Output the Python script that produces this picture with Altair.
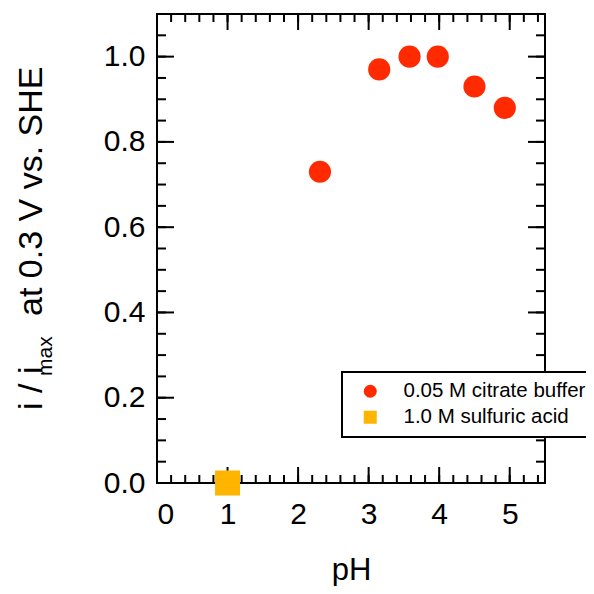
import altair as alt
import pandas as pd

# ---- data ----
citrate_ph = [2.31, 3.15, 3.58, 3.98, 4.50, 4.93]
citrate_val = [0.73, 0.97, 1.00, 1.00, 0.93, 0.88]
sulfuric_ph = [1.0]
sulfuric_val = [0.0]
series_names = ["0.05 M citrate buffer", "1.0 M sulfuric acid"]
series_colors = ["#ff2a00", "#ffb400"]
series_shapes = ["circle", "square"]

x_major = [0, 1, 2, 3, 4, 5]
x_minor = [0, 0.2, 0.4, 0.6, 0.8, 1.0, 1.2, 1.4, 1.6, 1.8, 2.0, 2.2, 2.4, 2.6, 2.8,
           3.0, 3.2, 3.4, 3.6, 3.8, 4.0, 4.2, 4.4, 4.6, 4.8, 5.0, 5.2, 5.4]
y_major = [0, 0.2, 0.4, 0.6, 0.8, 1.0]
y_minor = [0, 0.05, 0.1, 0.15, 0.2, 0.25, 0.3, 0.35, 0.4, 0.45, 0.5, 0.55, 0.6,
           0.65, 0.7, 0.75, 0.8, 0.85, 0.9, 0.95, 1.0, 1.05]

y_title_parts = ["i / i", "max", "at 0.3 V vs. SHE"]
x_title = "pH"

W, H = 388, 469
FONT = "Liberation Sans"

xs = alt.Scale(domain=[0, 5.5], nice=False, zero=False)
ys = alt.Scale(domain=[0, 1.1], nice=False, zero=False)

df_c = pd.DataFrame({"ph": citrate_ph, "v": citrate_val, "s": series_names[0]})
df_s = pd.DataFrame({"ph": sulfuric_ph, "v": sulfuric_val, "s": series_names[1]})

color = alt.Color("s:N", scale=alt.Scale(domain=series_names, range=series_colors),
                  legend=alt.Legend(title=None))
shape = alt.Shape("s:N", scale=alt.Scale(domain=series_names, range=series_shapes),
                  legend=alt.Legend(title=None))

xaxis = alt.Axis(values=x_major, format="d", ticks=False, domain=False, grid=False,
                 labelFontSize=30, labelFont=FONT, labelColor="black", labelPadding=16,
                 title=x_title, titleFontSize=31, titleFont=FONT, titleFontWeight="normal",
                 titleColor="black", titlePadding=26)
yaxis = alt.Axis(values=y_major, format=".1f", ticks=False, domain=False, grid=False,
                 labelFontSize=30, labelFont=FONT, labelColor="black", labelPadding=12,
                 title=None)

pts_c = alt.Chart(df_c).mark_point(filled=True, opacity=1, size=491, strokeWidth=0).encode(
    x=alt.X("ph:Q", scale=xs, axis=xaxis),
    y=alt.Y("v:Q", scale=ys, axis=yaxis),
    color=color, shape=shape)
pts_s = alt.Chart(df_s).mark_point(filled=True, opacity=1, size=625, strokeWidth=0).encode(
    x=alt.X("ph:Q", scale=xs), y=alt.Y("v:Q", scale=ys), color=color, shape=shape)

def xticks(vals, y0, y1):
    return alt.Chart(pd.DataFrame({"t": vals})).mark_rule(color="black", strokeWidth=2).encode(
        x=alt.X("t:Q", scale=xs), y=alt.value(y0), y2=alt.value(y1))

def yticks(vals, x0, x1):
    return alt.Chart(pd.DataFrame({"t": vals})).mark_rule(color="black", strokeWidth=2).encode(
        y=alt.Y("t:Q", scale=ys), x=alt.value(x0), x2=alt.value(x1))

ticks = [
    xticks(x_major, H, H - 16), xticks(x_minor, H, H - 8),
    xticks(x_major, 0, 16), xticks(x_minor, 0, 8),
    yticks(y_major, 0, 17), yticks(y_minor, 0, 9),
    yticks(y_major, W, W - 17), yticks(y_minor, W, W - 9),
]

def title_part(txt, size, bx, sy):
    return alt.Chart(pd.DataFrame({"t": [txt]})).mark_text(
        angle=270, align="left", baseline="alphabetic", font=FONT, fontSize=size,
        color="black").encode(text="t:N", x=alt.value(bx), y=alt.value(sy))

ytitle = [
    title_part(y_title_parts[0], 34, -115, 396),
    title_part(y_title_parts[1], 21, -105, 362),
    title_part(y_title_parts[2], 34, -115, 302),
]

chart = alt.layer(*ticks, *ytitle, pts_c, pts_s).properties(
    width=W, height=H,
    autosize=alt.AutoSizeParams(type="none"),
    padding={"left": 149, "top": 6, "right": 41, "bottom": 103},
).configure_view(stroke="black", strokeWidth=2).configure_legend(
    orient="none", legendX=185, legendY=358, padding=9,
    strokeColor="black", strokeWidth=2, fillColor="white", cornerRadius=0,
    labelFontSize=20.5, labelFont=FONT, labelColor="black", labelLimit=500,
    symbolSize=169, symbolOffset=9, labelOffset=23, rowPadding=5,
    symbolStrokeWidth=0, symbolOpacity=1,
)

chart.save("out.html", embed_options={"renderer": "svg", "actions": False})
